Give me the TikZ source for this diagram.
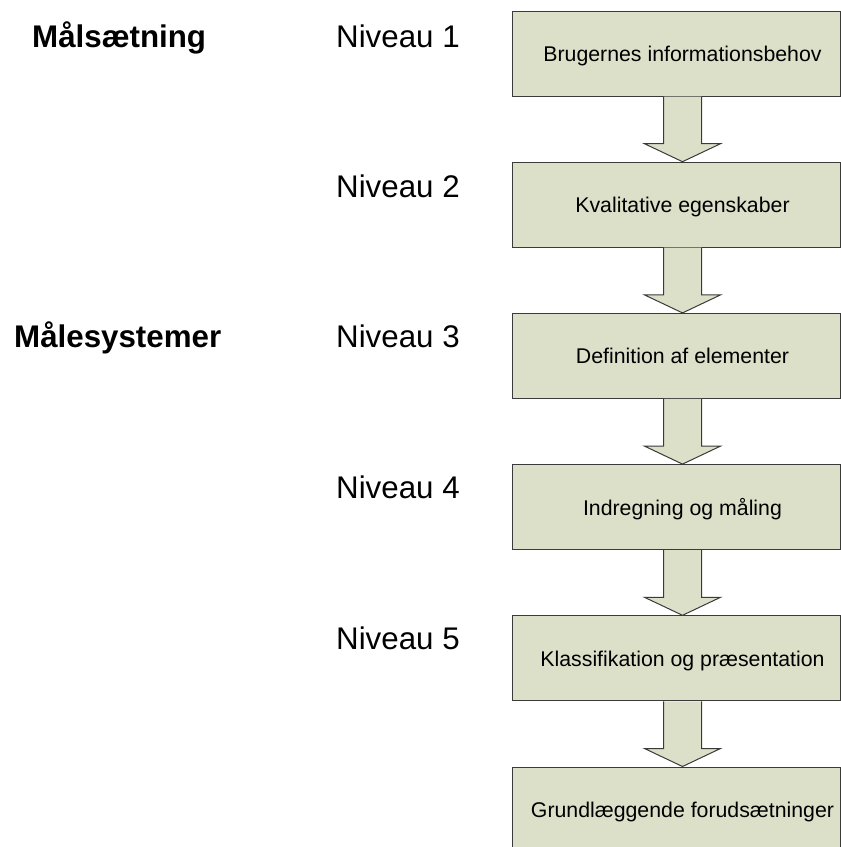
\documentclass[tikz,border=0pt]{standalone}
\usepackage{fontspec}
\setmainfont{Liberation Sans}
\usetikzlibrary{calc}
\definecolor{boxfill}{HTML}{DDE0C9}
\definecolor{boxline}{HTML}{3A3A3A}
\begin{document}
\begin{tikzpicture}[x=1pt,y=1pt,
  stepbox/.style={draw=boxline, fill=boxfill, line width=1pt, minimum width=328pt, minimum height=85pt, inner sep=0pt, text depth=0pt, font=\fontsize{21.3}{25}\selectfont},
  lvl/.style={anchor=base west, inner sep=0pt, font=\fontsize{31.3}{36}\selectfont},
  head/.style={anchor=base west, inner sep=0pt, font=\fontsize{31.3}{36}\selectfont\bfseries},
  arr/.style={draw=boxline, fill=boxfill, line width=1pt, line join=miter}]
\useasboundingbox (0,0) rectangle (841,-847);
\clip (0,0) rectangle (841,-847);
\node[stepbox] (b1) at (676,-53.5) {\hspace*{13pt}Brugernes informationsbehov};
\node[stepbox] (b2) at (676,-204.7) {\hspace*{13pt}Kvalitative egenskaber};
\node[stepbox] (b3) at (676,-355.9) {\hspace*{13pt}Definition af elementer};
\node[stepbox] (b4) at (676,-507.1) {\hspace*{13pt}Indregning og måling};
\node[stepbox] (b5) at (676,-658.3) {\hspace*{13pt}Klassifikation og præsentation};
\node[stepbox] (b6) at (676,-809.5) {\hspace*{13pt}Grundlæggende forudsætninger};
\foreach \a/\b in {b1/b2,b2/b3,b3/b4,b4/b5,b5/b6}{
  \draw[arr] ($(\a.south)+(-12.5,0)$) -- ($(\b.north)+(-12.5,18)$) -- ($(\b.north)+(-31.5,18)$)
    -- ($(\b.north)+(6.5,0)$) -- ($(\b.north)+(44.5,18)$) -- ($(\b.north)+(25.5,18)$) -- ($(\a.south)+(25.5,0)$);
}
\node[head] (h1) at (32,-47) {Målsætning};
\node[head] (h2) at (14,-347.5) {Målesystemer};
\node[lvl] (n1) at (336,-47) {Niveau 1};
\node[lvl] (n2) at (336,-197.5) {Niveau 2};
\node[lvl] (n3) at (336,-347.5) {Niveau 3};
\node[lvl] (n4) at (336,-498) {Niveau 4};
\node[lvl] (n5) at (336,-649) {Niveau 5};
\end{tikzpicture}
\end{document}
